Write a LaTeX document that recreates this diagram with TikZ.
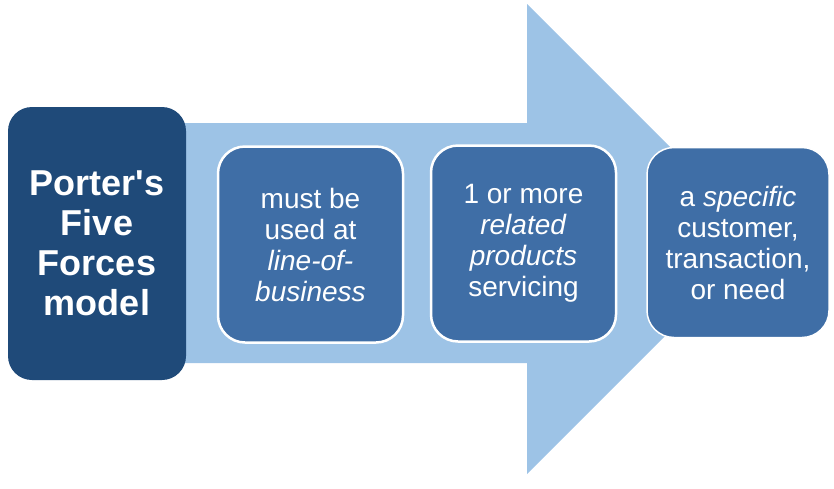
\documentclass[tikz,border=0pt]{standalone}
\usepackage{fontspec}
\setmainfont{Liberation Sans}
\usepackage{xcolor}
\usepackage{tikz}

\definecolor{arrowblue}{HTML}{9DC3E6}
\definecolor{navy}{HTML}{1F4A79}
\definecolor{midblue}{HTML}{3F6EA6}

\begin{document}
\begin{tikzpicture}[x=1pt,y=-1pt,
  stepbox/.style={fill=midblue,draw=white,line width=2.5pt,rounded corners=27pt,
    minimum width=185pt,minimum height=196pt,align=center,text=white,
    font=\fontsize{28}{31}\selectfont},
  modelbox/.style={fill=navy,rounded corners=24pt,minimum width=178pt,
    minimum height=273pt,align=center,text=white,
    font=\fontsize{36}{40}\selectfont\bfseries}]
\useasboundingbox (0,0) rectangle (834,488);
\fill[arrowblue] (150,123) -- (527,123) -- (527,4) -- (762,239) -- (527,474) -- (527,363) -- (150,363) -- cycle;

\node[modelbox] (porter) at (97,243.5) {Porter\textquotesingle s\\Five\\Forces\\model};
\node[stepbox] (lob) at (310.5,244.5) {must be\\used at\\\textit{line-of-}\\\textit{business}};
\node[stepbox] (products) at (523.5,243.5) {1 or more\\\textit{related}\\\textit{products}\\servicing};
\node[stepbox,line width=1.5pt,minimum width=182pt,minimum height=190pt] (need) at (738,242.5) {a \textit{specific}\\customer,\\transaction,\\or need};
\end{tikzpicture}
\end{document}
